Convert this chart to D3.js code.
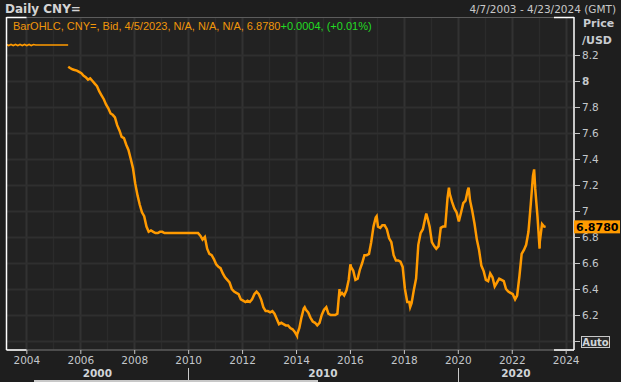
<!DOCTYPE html>
<html>
<head>
<meta charset="utf-8">
<script src="https://cdn.jsdelivr.net/npm/d3@7/dist/d3.min.js"></script>
<style>
  body { margin: 0; background: #1e1e1e; }
  svg { display: block; }
</style>
</head>
<body>
<div id="chart"></div>
<script>
// ---------------------------------------------data-----------------------------------------------------------
// peg period, monthly from Apr 2003 to Jul 2005
const pegFirstMonth = "2003-04";
const pegRate = [8.281, 8.273, 8.281, 8.273, 8.281, 8.273, 8.281, 8.273, 8.281, 8.273,
                 8.281, 8.273, 8.281, 8.277, 8.277, 8.277, 8.277, 8.277, 8.277, 8.277,
                 8.277, 8.277, 8.277, 8.277, 8.277, 8.277, 8.277, 8.277];

// monthly (mid-month) CNY= bid, from Aug 2005 to Mar 2023
const firstMonth = "2005-08";
const monthlyRate = [
  8.10, 8.09, 8.085, 8.08, 8.07,                                        // 2005
  8.06, 8.04, 8.03, 8.01, 8.02, 8.00, 7.98, 7.96, 7.92, 7.89, 7.86, 7.82, // 2006
  7.79, 7.75, 7.74, 7.72, 7.66, 7.62, 7.57, 7.56, 7.51, 7.47, 7.40, 7.33, // 2007
  7.21, 7.12, 7.05, 6.99, 6.96, 6.88, 6.84, 6.85, 6.84, 6.83, 6.83, 6.84, // 2008
  6.84, 6.83, 6.83, 6.83, 6.83, 6.83, 6.83, 6.83, 6.83, 6.83, 6.83, 6.83, // 2009
  6.83, 6.83, 6.83, 6.83, 6.83, 6.81, 6.78, 6.80, 6.71, 6.67, 6.66, 6.63, // 2010
  6.59, 6.57, 6.56, 6.52, 6.49, 6.47, 6.45, 6.40, 6.38, 6.37, 6.36, 6.32, // 2011
  6.31, 6.30, 6.31, 6.30, 6.32, 6.36, 6.38, 6.36, 6.32, 6.26, 6.23, 6.23, // 2012
  6.22, 6.23, 6.21, 6.17, 6.13, 6.14, 6.13, 6.12, 6.12, 6.10, 6.09, 6.07, // 2013
  6.05, 6.10, 6.18, 6.25, 6.24, 6.22, 6.18, 6.15, 6.14, 6.12, 6.14, 6.20, // 2014
  6.24, 6.26, 6.21, 6.20, 6.20, 6.20, 6.21, 6.35, 6.37, 6.35, 6.39, 6.47, // 2015
  6.57, 6.54, 6.47, 6.48, 6.55, 6.60, 6.66, 6.66, 6.67, 6.76, 6.88, 6.95, // 2016
  6.88, 6.87, 6.89, 6.89, 6.86, 6.79, 6.76, 6.66, 6.62, 6.62, 6.61, 6.57, // 2017
  6.40, 6.30, 6.30, 6.29, 6.39, 6.48, 6.74, 6.83, 6.86, 6.94, 6.95, 6.88, // 2018
  6.76, 6.73, 6.71, 6.73, 6.87, 6.88, 6.88, 7.10, 7.13, 7.07, 7.02, 6.99, // 2019
  6.92, 6.99, 7.06, 7.08, 7.16, 7.08, 7.00, 6.90, 6.78, 6.70, 6.58, 6.54, // 2020
  6.47, 6.46, 6.52, 6.49, 6.42, 6.45, 6.48, 6.47, 6.46, 6.40, 6.38, 6.37, // 2021
  6.36, 6.32, 6.35, 6.50, 6.67, 6.70, 6.74, 6.84, 7.05, 7.27, 7.17, 6.96, // 2022
  6.76, 6.90, 6.88                                                        // 2023
];

// turning points
const spikeDates = ["2005-07-21", "2014-01-14", "2014-04-28", "2015-08-13", "2016-01-07",
                    "2016-12-28", "2018-03-27", "2018-10-31", "2019-09-03", "2020-05-27",
                    "2022-10-31", "2023-01-13", "2023-04-05"];
const spikeRates = [8.11, 6.04, 6.26, 6.40, 6.59,
                    6.96, 6.26, 6.98, 7.18, 7.18,
                    7.32, 6.71, 6.878];

const yTicks = [6.0, 6.2, 6.4, 6.6, 6.8, 7.0, 7.2, 7.4, 7.6, 7.8, 8.0, 8.2];
const xLabelYears = [2004, 2006, 2008, 2010, 2012, 2014, 2016, 2018, 2020, 2022, 2024];
const decades = [2000, 2010, 2020];
const lastPrice = 6.878;

// ---------------------------------------------layout---------------------------------------------------------
const w = 621, h = 382;
const plot = {left: 6.5, right: 574, top: 17, bottom: 350};
const orange = "#ff9a00";
const font = "'DejaVu Sans', Verdana, sans-serif";

const parseDay = d3.timeParse("%Y-%m-%d");
const parseMonth = d3.timeParse("%Y-%m");

const x = d3.scaleTime()
            .domain([parseDay("2003-04-07"), parseDay("2024-04-23")])
            .range([plot.left, plot.right]);

const y = d3.scaleLinear()
            .domain([6.0, 8.2])
            .range([341, 55]);

// build series
const pegStart = parseMonth(pegFirstMonth);
let pegData = pegRate.map((v, i) => ({date: d3.timeDay.offset(d3.timeMonth.offset(pegStart, i), 6), value: v}));
pegData[pegData.length - 1].date = parseDay("2005-07-20");

const start = parseMonth(firstMonth);
let dataset = monthlyRate.map((v, i) => ({date: d3.timeDay.offset(d3.timeMonth.offset(start, i), 14), value: v}));
spikeDates.forEach((d, i) => dataset.push({date: parseDay(d), value: spikeRates[i]}));
dataset.sort((a, b) => a.date - b.date);

const svg = d3.select("#chart")
              .append("svg")
                .attr("width", w)
                .attr("height", h);

svg.append("rect").attr("width", w).attr("height", h).attr("fill", "#1e1e1e");

// plot background
svg.append("rect")
   .attr("x", plot.left).attr("y", plot.top)
   .attr("width", plot.right - plot.left).attr("height", plot.bottom - plot.top)
   .attr("fill", "#222222");

//----------------------------------------------grid-----------------------------------------------------------
const years = d3.range(2004, 2025).map(yr => new Date(yr, 0, 1));
svg.append("g")
   .selectAll("line")
   .data(years)
   .enter()
   .append("line")
     .attr("x1", d => Math.round(x(d)) + 0.5)
     .attr("x2", d => Math.round(x(d)) + 0.5)
     .attr("y1", plot.top)
     .attr("y2", plot.bottom)
     .attr("stroke", d => d.getFullYear() % 2 === 0 ? "#323232" : "#2b2b2b")
     .attr("stroke-width", d => d.getFullYear() % 2 === 0 ? 2 : 1.5);

svg.append("g")
   .selectAll("line")
   .data(yTicks)
   .enter()
   .append("line")
     .attr("x1", plot.left)
     .attr("x2", plot.right)
     .attr("y1", d => Math.round(y(d)) + 0.5)
     .attr("y2", d => Math.round(y(d)) + 0.5)
     .attr("stroke", "#2f2f2f")
     .attr("stroke-width", 2);

//----------------------------------------------series---------------------------------------------------------
const line = d3.line()
               .x(d => x(d.date))
               .y(d => y(d.value));

svg.append("path")
   .datum(pegData)
   .attr("d", line)
   .attr("fill", "none")
   .attr("stroke", orange)
   .attr("stroke-width", 1.6);

svg.append("path")
   .datum(dataset)
   .attr("d", line)
   .attr("fill", "none")
   .attr("stroke", orange)
   .attr("stroke-width", 2.5)
   .attr("stroke-linejoin", "miter");

//----------------------------------------------frame----------------------------------------------------------
const frame = svg.append("g").attr("fill", "none");
frame.append("line").attr("x1", plot.left).attr("x2", plot.right).attr("y1", plot.top + 0.5).attr("y2", plot.top + 0.5)
     .attr("stroke", "#5c5c5c").attr("stroke-width", 1);
frame.append("line").attr("x1", plot.left).attr("x2", plot.right).attr("y1", plot.bottom).attr("y2", plot.bottom)
     .attr("stroke", "#5c5c5c").attr("stroke-width", 1.5);
// white corners and sides
[[plot.left, plot.left + 20], [plot.right - 20, plot.right]].forEach(s => {
  frame.append("line").attr("x1", s[0]).attr("x2", s[1]).attr("y1", plot.top + 0.5).attr("y2", plot.top + 0.5)
       .attr("stroke", "#ffffff").attr("stroke-width", 1.5);
  frame.append("line").attr("x1", s[0]).attr("x2", s[1]).attr("y1", plot.bottom).attr("y2", plot.bottom)
       .attr("stroke", "#ffffff").attr("stroke-width", 1.5);
});
frame.append("line").attr("x1", plot.left).attr("x2", plot.left).attr("y1", plot.top).attr("y2", plot.bottom)
     .attr("stroke", "#ffffff").attr("stroke-width", 1.5);
frame.append("line").attr("x1", plot.right).attr("x2", plot.right).attr("y1", plot.top).attr("y2", plot.bottom)
     .attr("stroke", "#ffffff").attr("stroke-width", 1.5);

//----------------------------------------------y axis---------------------------------------------------------
const yAxis = svg.append("g")
                 .attr("transform", "translate(" + plot.right + ",0)")
                 .call(d3.axisRight(y)
                         .tickValues(yTicks.filter(v => v > 6.1))
                         .tickSize(6)
                         .tickPadding(2)
                         .tickFormat(d => d3.format("")(+d.toFixed(1))));
yAxis.select(".domain").remove();
yAxis.selectAll("line").attr("stroke", "#c8c8c8");
yAxis.selectAll("text")
     .attr("fill", "#c4c8cc")
     .attr("font-family", font)
     .attr("font-size", 10.5)
     .attr("font-weight", d => d === 8 ? "bold" : "normal");

// Auto box at 6.0
svg.append("line").attr("x1", plot.right).attr("x2", plot.right + 6)
   .attr("y1", y(6.0) + 0.5).attr("y2", y(6.0) + 0.5).attr("stroke", "#c8c8c8");
svg.append("rect")
   .attr("x", 581.5).attr("y", y(6.0) - 4.5).attr("width", 28).attr("height", 11)
   .attr("fill", "#2a2a2a").attr("stroke", "#c8c8c8");
svg.append("text")
   .attr("x", 595.5).attr("y", y(6.0) + 4.5)
   .attr("text-anchor", "middle")
   .attr("fill", "#d0d4d8").attr("font-family", font).attr("font-size", 10).attr("font-weight", "bold")
   .text("Auto");

// last price tag
svg.append("rect")
   .attr("x", plot.right).attr("y", y(lastPrice) - 6.5)
   .attr("width", 46).attr("height", 13)
   .attr("fill", orange);
svg.append("text")
   .attr("x", plot.right + 2).attr("y", y(lastPrice) + 4.5)
   .attr("fill", "#000000").attr("font-family", font).attr("font-size", 11).attr("font-weight", "bold")
   .text(d3.format(".4f")(lastPrice));

svg.append("text").attr("x", 583).attr("y", 27)
   .attr("fill", "#c8ccd0").attr("font-family", font).attr("font-size", 11).attr("font-weight", "bold")
   .text("Price");
svg.append("text").attr("x", 582).attr("y", 44)
   .attr("fill", "#c8ccd0").attr("font-family", font).attr("font-size", 11).attr("font-weight", "bold")
   .text("/USD");

//----------------------------------------------x axis---------------------------------------------------------
const xAxis = svg.append("g")
                 .attr("transform", "translate(0," + plot.bottom + ")")
                 .call(d3.axisBottom(x)
                         .tickValues(xLabelYears.map(yr => new Date(yr, 0, 1)))
                         .tickSize(4)
                         .tickPadding(3)
                         .tickFormat(d3.timeFormat("%Y")));
xAxis.select(".domain").remove();
xAxis.selectAll("line").attr("stroke", "#c8c8c8");
xAxis.selectAll("text")
     .attr("fill", "#c4c8cc")
     .attr("font-family", font)
     .attr("font-size", 10.5);

// decade row
const decadeEdges = [plot.left, x(new Date(2010, 0, 1)), x(new Date(2020, 0, 1)), plot.right];
svg.append("g")
   .selectAll("text")
   .data(decades)
   .enter()
   .append("text")
     .attr("x", (d, i) => (decadeEdges[i] + decadeEdges[i + 1]) / 2)
     .attr("y", 377)
     .attr("text-anchor", "middle")
     .attr("fill", "#d0d4d8")
     .attr("font-family", font)
     .attr("font-size", 10.5)
     .attr("font-weight", "bold")
     .text(d => d);

svg.append("g")
   .selectAll("line")
   .data(decadeEdges.slice(1, 3))
   .enter()
   .append("line")
     .attr("x1", d => Math.round(d) + 0.5)
     .attr("x2", d => Math.round(d) + 0.5)
     .attr("y1", 368)
     .attr("y2", h)
     .attr("stroke", "#c8c8c8");

// scroll thumb
svg.append("rect").attr("x", 34).attr("y", 380).attr("width", 284).attr("height", 2).attr("fill", "#c8c8c8");

//----------------------------------------------titles---------------------------------------------------------
svg.append("text").attr("x", 5).attr("y", 13)
   .attr("fill", "#d4d4d4").attr("font-family", font).attr("font-size", 12).attr("font-weight", "bold")
   .text("Daily CNY=");
svg.append("text").attr("x", 616).attr("y", 13)
   .attr("text-anchor", "end")
   .attr("fill", "#c8c8c8").attr("font-family", font).attr("font-size", 10.5)
   .text("4/7/2003 - 4/23/2024 (GMT)");

const legend = svg.append("text")
                  .attr("x", 13).attr("y", 30)
                  .attr("font-family", "'Liberation Sans', Arial, sans-serif")
                  .attr("font-size", 11);
legend.append("tspan").attr("fill", "#f0960a").text("BarOHLC, CNY=, Bid, 4/5/2023, N/A, N/A, N/A, 6.8780");
legend.append("tspan").attr("fill", "#22dd22").text("+0.0004, (+0.01%)");
</script>
</body>
</html>
